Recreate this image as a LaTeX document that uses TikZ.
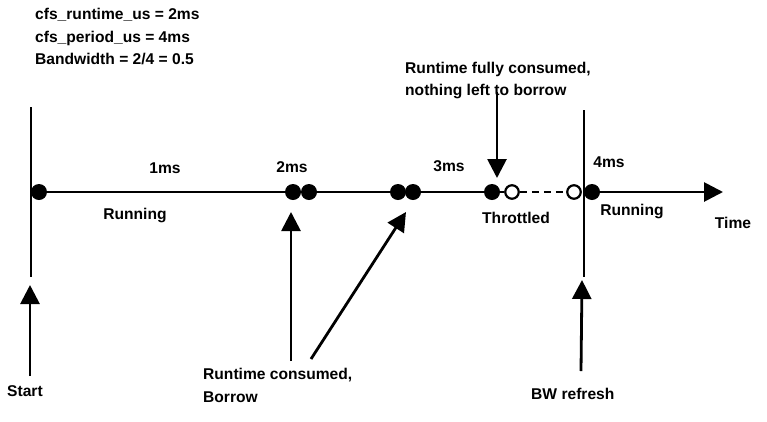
\documentclass[tikz,border=0pt]{standalone}
\usepackage{fontspec}
\setmainfont{Liberation Sans}
\usetikzlibrary{arrows.meta}
\begin{document}
\begin{tikzpicture}[x=1pt,y=-1pt,
  lbl/.style={font=\bfseries\fontsize{15.6}{18}\selectfont, inner sep=0pt},
  fdot/.style={circle,fill=black,minimum size=16pt,inner sep=0pt},
  odot/.style={circle,draw=black,line width=2.2pt,fill=white,minimum size=13.5pt,inner sep=0pt},
  tl/.style={line width=2.8pt},
  vl/.style={line width=2.4pt},
  arr/.style={line width=2.8pt,-{Triangle[length=19pt,width=19pt]}},
]
\useasboundingbox (0,0) rectangle (767,421);

% header
\node[lbl,anchor=base west] (h1) at (35,19) {cfs\_runtime\_us = 2ms};
\node[lbl,anchor=base west] (h2) at (35,42) {cfs\_period\_us = 4ms};
\node[lbl,anchor=base west] (h3) at (35,64) {Bandwidth = 2/4 = 0.5};

% vertical period lines
\coordinate (v1t) at (31,107);
\coordinate (v1b) at (31,277);
\coordinate (v2t) at (584,110);
\coordinate (v2b) at (584,277);
\draw[vl] (v1t) -- (v1b);
\draw[vl] (v2t) -- (v2b);

% timeline points
\coordinate (tend) at (723,192);
\node[fdot] (d0) at (39,192) {};
\node[fdot] (d1) at (293,192) {};
\node[fdot] (d2) at (309,192) {};
\node[fdot] (d3) at (398,192) {};
\node[fdot] (d4) at (413,192) {};
\node[fdot] (d5) at (492,192) {};
\node[odot] (o1) at (512,192) {};
\node[odot] (o2) at (574,192) {};
\node[fdot] (d6) at (592,192) {};

% timeline
\draw[tl] (d0) -- (d1);
\draw[tl] (d2) -- (d3);
\draw[tl] (d4) -- (d5);
\draw[tl] (d5) -- (o1);
\draw[tl,dash pattern=on 7pt off 5pt] (o1) -- (o2);
\draw[arr] (d6) -- (tend);

% labels on timeline
\node[lbl,anchor=base] (t1) at (165,173) {1ms};
\node[lbl,anchor=base] (t2) at (292,172) {2ms};
\node[lbl,anchor=base] (t3) at (449,171) {3ms};
\node[lbl,anchor=base] (t4) at (609,167) {4ms};
\node[lbl,anchor=base] (r1) at (135,219) {Running};
\node[lbl,anchor=base] (r2) at (632,215) {Running};
\node[lbl,anchor=base] (thr) at (516,223) {Throttled};
\node[lbl,anchor=base] (time) at (733,228) {Time};

% bottom labels
\node[lbl,anchor=base west] (start) at (7,396) {Start};
\node[lbl,anchor=base west] (rc1) at (203,379) {Runtime consumed,};
\node[lbl,anchor=base west] (rc2) at (203,402) {Borrow};
\node[lbl,anchor=base west] (bw) at (531,399) {BW refresh};
\node[lbl,anchor=base west] (rf1) at (405,73) {Runtime fully consumed,};
\node[lbl,anchor=base west] (rf2) at (405,95) {nothing left to borrow};

% arrows
\coordinate (sA) at (30,376);
\coordinate (sB) at (30,285);
\draw[arr] (sA) -- (sB);

\coordinate (cA) at (291,361);
\coordinate (cB) at (291,212);
\draw[arr] (cA) -- (cB);

\coordinate (cC) at (311,359);
\coordinate (cD) at (406,212);
\draw[arr] (cC) -- (cD);

\coordinate (bA) at (581,371);
\coordinate (bB) at (582,280);
\draw[arr] (bA) -- (bB);

\coordinate (fA) at (497,92);
\coordinate (fB) at (497,178);
\draw[arr] (fA) -- (fB);
\end{tikzpicture}
\end{document}
